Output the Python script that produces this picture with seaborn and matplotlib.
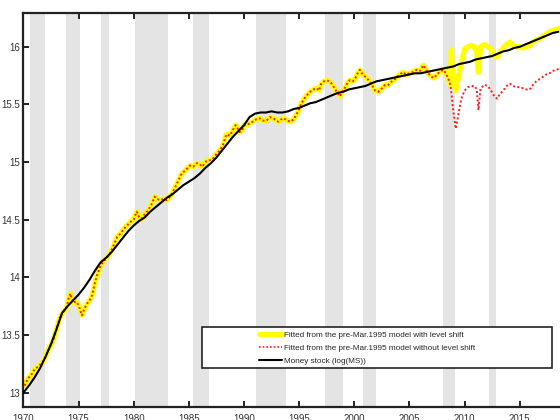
import pandas as pd
import matplotlib
matplotlib.use("Agg")
import matplotlib.pyplot as plt
from matplotlib.patches import Rectangle
from matplotlib.lines import Line2D
import seaborn as sns

# ---- data ---------------------------------------------------------------
# Money stock, log(MS)
ms_years = [1970.0, 1970.5, 1971.0, 1971.5, 1972.0, 1972.5, 1973.0, 1973.5, 1974.0, 1974.5,
            1975.0, 1975.5, 1976.0, 1976.5, 1977.0, 1977.5, 1978.0, 1978.5, 1979.0, 1979.5,
            1980.0, 1980.5, 1981.0, 1981.5, 1982.0, 1982.5, 1983.0, 1983.5, 1984.0, 1984.5,
            1985.0, 1985.5, 1986.0, 1986.5, 1987.0, 1987.5, 1988.0, 1988.5, 1989.0, 1989.5,
            1990.0, 1990.5, 1991.0, 1991.5, 1992.0, 1992.5, 1993.0, 1993.5, 1994.0, 1994.5,
            1995.0, 1995.5, 1996.0, 1996.5, 1997.0, 1997.5, 1998.0, 1998.5, 1999.0, 1999.5,
            2000.0, 2000.5, 2001.0, 2001.5, 2002.0, 2002.5, 2003.0, 2003.5, 2004.0, 2004.5,
            2005.0, 2005.5, 2006.0, 2006.5, 2007.0, 2007.5, 2008.0, 2008.5, 2009.0, 2009.5,
            2010.0, 2010.5, 2011.0, 2011.5, 2012.0, 2012.5, 2013.0, 2013.5, 2014.0, 2014.5,
            2015.0, 2015.5, 2016.0, 2016.5, 2017.0, 2017.5, 2018.0, 2018.5]
ms_log = [13.00, 13.06, 13.13, 13.21, 13.31, 13.42, 13.55, 13.69, 13.75, 13.80,
          13.85, 13.91, 13.98, 14.06, 14.13, 14.17, 14.22, 14.28, 14.34, 14.40,
          14.45, 14.49, 14.52, 14.57, 14.61, 14.65, 14.69, 14.72, 14.76, 14.80,
          14.83, 14.86, 14.90, 14.95, 14.99, 15.04, 15.10, 15.16, 15.22, 15.27,
          15.32, 15.39, 15.42, 15.43, 15.43, 15.44, 15.43, 15.43, 15.44, 15.46,
          15.47, 15.49, 15.51, 15.52, 15.54, 15.56, 15.58, 15.60, 15.61, 15.63,
          15.64, 15.65, 15.66, 15.68, 15.70, 15.71, 15.72, 15.73, 15.74, 15.75,
          15.76, 15.77, 15.77, 15.78, 15.79, 15.80, 15.81, 15.82, 15.83, 15.85,
          15.86, 15.87, 15.89, 15.90, 15.91, 15.92, 15.94, 15.96, 15.97, 15.99,
          16.00, 16.02, 16.04, 16.06, 16.08, 16.10, 16.12, 16.13]

# Fitted values, identical for both models up to the 2008 break
fit_years = [1970.1, 1970.4, 1970.75, 1971.0, 1971.25, 1971.5, 1971.75, 1972.0, 1972.3, 1972.7,
             1973.0, 1973.3, 1973.6, 1973.9, 1974.1, 1974.25, 1974.5, 1974.75, 1975.0, 1975.3,
             1975.5, 1975.75, 1976.0, 1976.25, 1976.5, 1976.75, 1977.0, 1977.25, 1977.5, 1977.85,
             1978.1, 1978.5, 1978.8, 1979.1, 1979.4, 1979.7, 1980.0, 1980.27, 1980.5, 1980.75,
             1981.0, 1981.3, 1981.6, 1981.9, 1982.1, 1982.4, 1982.7, 1983.0, 1983.3, 1983.7,
             1984.0, 1984.35, 1984.7, 1985.1, 1985.4, 1985.7, 1986.0, 1986.2, 1986.6, 1987.1,
             1987.5, 1987.8, 1988.1, 1988.4, 1988.73, 1989.0, 1989.25, 1989.6, 1989.8, 1990.05,
             1990.4, 1990.8, 1991.1, 1991.4, 1991.7, 1992.05, 1992.35, 1992.65, 1993.1, 1993.35,
             1993.6, 1993.9, 1994.2, 1994.5, 1994.8, 1995.0, 1995.2, 1995.6, 1996.0, 1996.3,
             1996.6, 1996.8, 1997.0, 1997.25, 1997.5, 1997.75, 1997.95, 1998.2, 1998.4, 1998.7,
             1998.95, 1999.2, 1999.4, 1999.6, 1999.85, 2000.1, 2000.3, 2000.5, 2000.75, 2001.0,
             2001.2, 2001.4, 2001.65, 2001.87, 2002.2, 2002.5, 2002.8, 2003.1, 2003.4, 2003.7,
             2004.0, 2004.4, 2004.7, 2005.0, 2005.3, 2005.65, 2005.95, 2006.25, 2006.5, 2006.7,
             2007.0, 2007.2, 2007.6, 2007.85, 2008.07, 2008.3, 2008.5, 2008.7]
fit_common = [13.06, 13.12, 13.16, 13.20, 13.22, 13.24, 13.27, 13.31, 13.38, 13.45,
              13.55, 13.65, 13.70, 13.73, 13.82, 13.86, 13.78, 13.79, 13.76, 13.67,
              13.72, 13.77, 13.80, 13.85, 13.96, 14.04, 14.10, 14.14, 14.16, 14.21,
              14.26, 14.35, 14.38, 14.42, 14.45, 14.48, 14.50, 14.57, 14.52, 14.51,
              14.55, 14.58, 14.63, 14.70, 14.68, 14.67, 14.68, 14.67, 14.70, 14.77,
              14.83, 14.90, 14.93, 14.97, 14.96, 14.99, 14.98, 14.96, 15.01, 15.02,
              15.07, 15.10, 15.15, 15.24, 15.23, 15.28, 15.32, 15.26, 15.27, 15.32,
              15.33, 15.35, 15.37, 15.38, 15.36, 15.36, 15.39, 15.38, 15.35, 15.37,
              15.38, 15.36, 15.35, 15.37, 15.42, 15.46, 15.51, 15.57, 15.61, 15.63,
              15.64, 15.62, 15.68, 15.70, 15.71, 15.70, 15.68, 15.64, 15.61, 15.57,
              15.62, 15.65, 15.69, 15.71, 15.70, 15.73, 15.77, 15.80, 15.76, 15.74,
              15.72, 15.70, 15.66, 15.62, 15.61, 15.64, 15.67, 15.67, 15.70, 15.72,
              15.75, 15.78, 15.76, 15.77, 15.78, 15.80, 15.79, 15.84, 15.80, 15.77,
              15.74, 15.73, 15.77, 15.79, 15.80, 15.77, 15.73, 15.67]

# After the break the two models diverge
post_years = [2008.8, 2008.95, 2009.2, 2009.45, 2009.7, 2010.0, 2010.3, 2010.6, 2010.9, 2011.1,
              2011.25, 2011.45, 2011.8, 2012.1, 2012.4, 2012.7, 2012.95, 2013.2, 2013.5, 2013.8,
              2014.1, 2014.4, 2014.7, 2015.0, 2015.3, 2015.6, 2015.9, 2016.2, 2016.5, 2016.8,
              2017.1, 2017.4, 2017.7, 2018.0, 2018.3, 2018.6]
post_with_shift = [15.97, 15.72, 15.62, 15.74, 15.86, 15.98, 16.00, 16.01, 16.00, 15.95,
                   15.78, 16.00, 16.02, 16.00, 15.98, 15.92, 15.91, 15.95, 15.99, 16.02,
                   16.04, 16.01, 16.00, 16.00, 15.99, 16.00, 16.01, 16.04, 16.06, 16.07,
                   16.09, 16.11, 16.13, 16.14, 16.15, 16.16]
post_without_shift = [15.60, 15.46, 15.29, 15.42, 15.55, 15.62, 15.65, 15.66, 15.66, 15.63,
                      15.45, 15.64, 15.67, 15.66, 15.62, 15.57, 15.55, 15.59, 15.62, 15.66,
                      15.68, 15.66, 15.65, 15.65, 15.64, 15.63, 15.63, 15.67, 15.70, 15.72,
                      15.74, 15.76, 15.77, 15.79, 15.80, 15.81]

# Recession periods (start, end)
recession_start = [1970.58, 1973.83, 1977.0, 1980.08, 1985.42, 1991.08, 1997.33, 2000.83, 2008.08, 2012.17]
recession_end = [1971.92, 1975.17, 1977.75, 1983.08, 1986.83, 1993.83, 1999.0, 2002.0, 2009.17, 2012.83]

x_ticks = [1970, 1975, 1980, 1985, 1990, 1995, 2000, 2005, 2010, 2015]
y_ticks = [13, 13.5, 14, 14.5, 15, 15.5, 16]
y_tick_labels = ["13", "13.5", "14", "14.5", "15", "15.5", "16"]

labels = ["Fitted from the pre-Mar.1995 model with level shift",
          "Fitted from the pre-Mar.1995 model without level shift",
          "Money stock (log(MS))"]

# ---- frames ---------------------------------------------------------------
df_ms = pd.DataFrame({"year": ms_years, "value": ms_log})
df_with = pd.DataFrame({"year": fit_years + post_years,
                        "value": fit_common + post_with_shift})
df_without = pd.DataFrame({"year": fit_years + post_years,
                           "value": fit_common + post_without_shift})

# ---- plot -------------------------------------------------------------------
sns.set_style("white")
plt.rcParams["font.family"] = ["Liberation Sans", "DejaVu Sans"]

W, H = 560, 420
fig = plt.figure(figsize=(W / 100, H / 100), dpi=100)
left_px, top_px, bottom_px = 23.4, 13.0, 406.7
px_per_year = 11.03
x0, x1 = 1970, 2020
ax = fig.add_axes([left_px / W, (H - bottom_px) / H,
                   (x1 - x0) * px_per_year / W, (bottom_px - top_px) / H])

for s, e in zip(recession_start, recession_end):
    ax.axvspan(s, e, color="#e4e4e4", lw=0, zorder=0)

sns.lineplot(data=df_with, x="year", y="value", ax=ax, color="#ffff00",
             lw=3.8, sort=False, estimator=None, zorder=2)
sns.lineplot(data=df_without, x="year", y="value", ax=ax, color="#ff1a1a",
             lw=1.4, ls=(0, (1, 1.2)), sort=False, estimator=None, zorder=3)
sns.lineplot(data=df_ms, x="year", y="value", ax=ax, color="black",
             lw=1.5, sort=False, estimator=None, zorder=4)

ax.set_xlim(x0, x1)
ax.set_ylim(12.878, 16.293)
ax.set_xticks(x_ticks)
ax.set_xticklabels([str(t) for t in x_ticks])
ax.set_yticks(y_ticks)
ax.set_yticklabels(y_tick_labels)
ax.set_xlabel("")
ax.set_ylabel("")
ax.grid(False)

for side in ["left", "top", "bottom", "right"]:
    ax.spines[side].set_color("#222222")
    ax.spines[side].set_linewidth(1.6)
ax.tick_params(axis="both", direction="in", length=4, width=1.4,
               colors="#222222", labelcolor="#333333", labelsize=7)
ax.tick_params(axis="x", top=True, bottom=True, pad=5)
ax.tick_params(axis="y", left=True, right=False, pad=2.5)

# legend with a wide box around it
handles = [Line2D([], [], color="#ffff00", lw=3.6),
           Line2D([], [], color="#ff1a1a", lw=1.2, ls=(0, (1, 1.2))),
           Line2D([], [], color="black", lw=1.5)]
fig.legend(handles, labels, loc="upper left",
           bbox_to_anchor=(259 / W, (H - 331) / H), frameon=False,
           fontsize=5.9, handlelength=2.8, handletextpad=0.25,
           labelspacing=0.68, borderpad=0, borderaxespad=0)
fig.patches.append(Rectangle((202 / W, (H - 368) / H), 350 / W, 41 / H,
                             transform=fig.transFigure, fill=True,
                             facecolor="white", edgecolor="#222222", lw=1.2,
                             zorder=5))

fig.savefig("out.png", dpi=100)
